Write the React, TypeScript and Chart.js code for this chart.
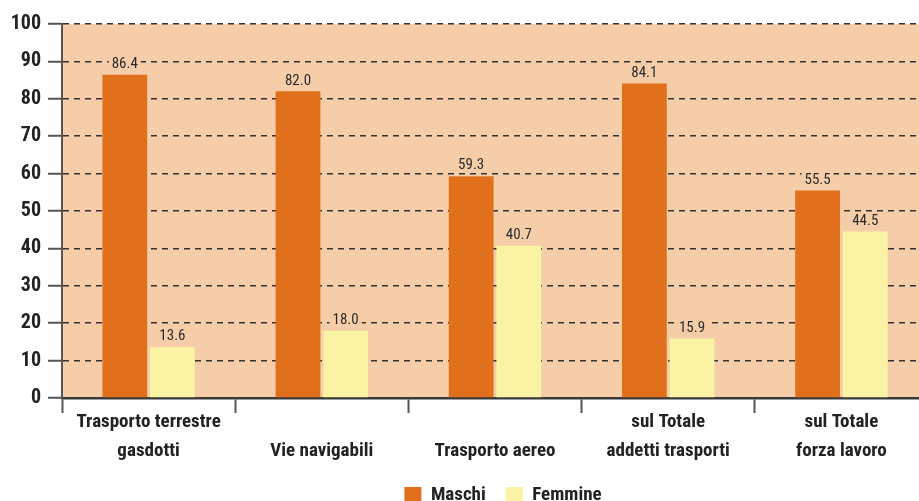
import React, { useEffect, useRef } from "react";
import { Chart, registerables } from "chart.js";

Chart.register(...registerables);

const categories: string[][] = [
  ["Trasporto terrestre", "gasdotti"],
  ["", "Vie navigabili"],
  ["", "Trasporto aereo"],
  ["sul Totale", "addetti trasporti"],
  ["sul Totale", "forza lavoro"],
];
const seriesNames = ["Maschi", "Femmine"];
const maschi = [86.4, 82.0, 59.3, 84.1, 55.5];
const femmine = [13.6, 18.0, 40.7, 15.9, 44.5];
const yMin = 0;
const yMax = 100;
const yStep = 10;

const FONT = '"Roboto Condensed", "Liberation Sans Narrow", "DejaVu Sans Condensed", sans-serif';
const PEACH = "#F6CDA9";
const ORANGE = "#E1701D";
const YELLOW = "#F9F3A3";

const bgPlugin = {
  id: "plotBg",
  beforeDraw(chart: any) {
    const { ctx, chartArea } = chart;
    ctx.save();
    ctx.fillStyle = PEACH;
    ctx.fillRect(chartArea.left, chartArea.top, chartArea.right - chartArea.left, chartArea.bottom - chartArea.top);
    ctx.restore();
  },
};

// the visible legend is centred on the page, not on the wider canvas
const legendShiftPlugin = {
  id: "legendShift",
  afterLayout(chart: any) {
    if (chart.legend) {
      chart.legend.left += 39;
      chart.legend.right += 39;
    }
  },
};

const labelPlugin = {
  id: "valueLabels",
  afterDatasetsDraw(chart: any) {
    const { ctx } = chart;
    ctx.save();
    ctx.font = `15px ${FONT}`;
    ctx.textAlign = "center";
    ctx.textBaseline = "bottom";
    chart.data.datasets.forEach((ds: any, di: number) => {
      const meta = chart.getDatasetMeta(di);
      meta.data.forEach((bar: any, i: number) => {
        const text = Number(ds.data[i]).toFixed(1);
        const w = ctx.measureText(text).width;
        const x = bar.x;
        const y = bar.y - 3;
        ctx.fillStyle = PEACH;
        ctx.fillRect(x - w / 2 - 3, y - 15, w + 6, 14);
        ctx.fillStyle = "#2b2b2b";
        ctx.fillText(text, x, y);
      });
    });
    ctx.restore();
  },
};

export default function App() {
  const ref = useRef<HTMLCanvasElement | null>(null);

  useEffect(() => {
    if (!ref.current) return;
    const chart = new Chart(ref.current, {
      type: "bar",
      data: {
        labels: categories,
        datasets: [
          {
            label: seriesNames[0],
            data: maschi,
            backgroundColor: ORANGE,
            borderWidth: 0,
            categoryPercentage: 0.55,
            barPercentage: 0.94,
          },
          {
            label: seriesNames[1],
            data: femmine,
            backgroundColor: YELLOW,
            borderWidth: 0,
            categoryPercentage: 0.55,
            barPercentage: 0.94,
          },
        ],
      },
      options: {
        responsive: false,
        animation: false,
        devicePixelRatio: 1,
        layout: { padding: { top: 24, left: 0, right: 78, bottom: 0 } },
        plugins: {
          tooltip: { enabled: false },
          legend: {
            position: "bottom",
            labels: {
              boxWidth: 17,
              boxHeight: 17,
              padding: 20,
              color: "#222",
              font: { family: FONT, size: 19, weight: "bold" },
            },
          },
        },
        scales: {
          x: {
            grid: {
              offset: true,
              drawOnChartArea: false,
              drawTicks: true,
              tickLength: 15,
              tickColor: "#555",
              tickWidth: 2,
            },
            border: { color: "#3a3a3a", width: 2.5 },
            ticks: {
              color: "#222",
              padding: -5,
              maxRotation: 0,
              autoSkip: false,
              font: { family: FONT, size: 19, weight: "bold", lineHeight: 1.5 },
            },
            afterFit(scale: any) {
              scale.height = 68;
            },
          },
          y: {
            min: yMin,
            max: yMax,
            grid: {
              color: (c: any) => (c.tick && c.tick.value === 0 ? "rgba(0,0,0,0)" : "#333"),
              lineWidth: 1.5,
              tickColor: "#555",
              tickWidth: 2,
              tickLength: 14,
            },
            border: { color: "#555", width: 2, dash: [6, 5] },
            ticks: {
              stepSize: yStep,
              color: "#222",
              padding: 7,
              font: { family: FONT, size: 20, weight: "bold" },
            },
            afterFit(scale: any) {
              scale.width = 62;
            },
          },
        },
      },
      plugins: [bgPlugin, legendShiftPlugin, labelPlugin],
    });
    return () => chart.destroy();
  }, []);

  return (
    <div style={{ position: "fixed", left: 0, top: 0, width: 919, height: 501, overflow: "hidden", background: "#fff" }}>
      <canvas ref={ref} width={1006} height={515} style={{ position: "absolute", left: 0, top: 0 }} />
    </div>
  );
}
